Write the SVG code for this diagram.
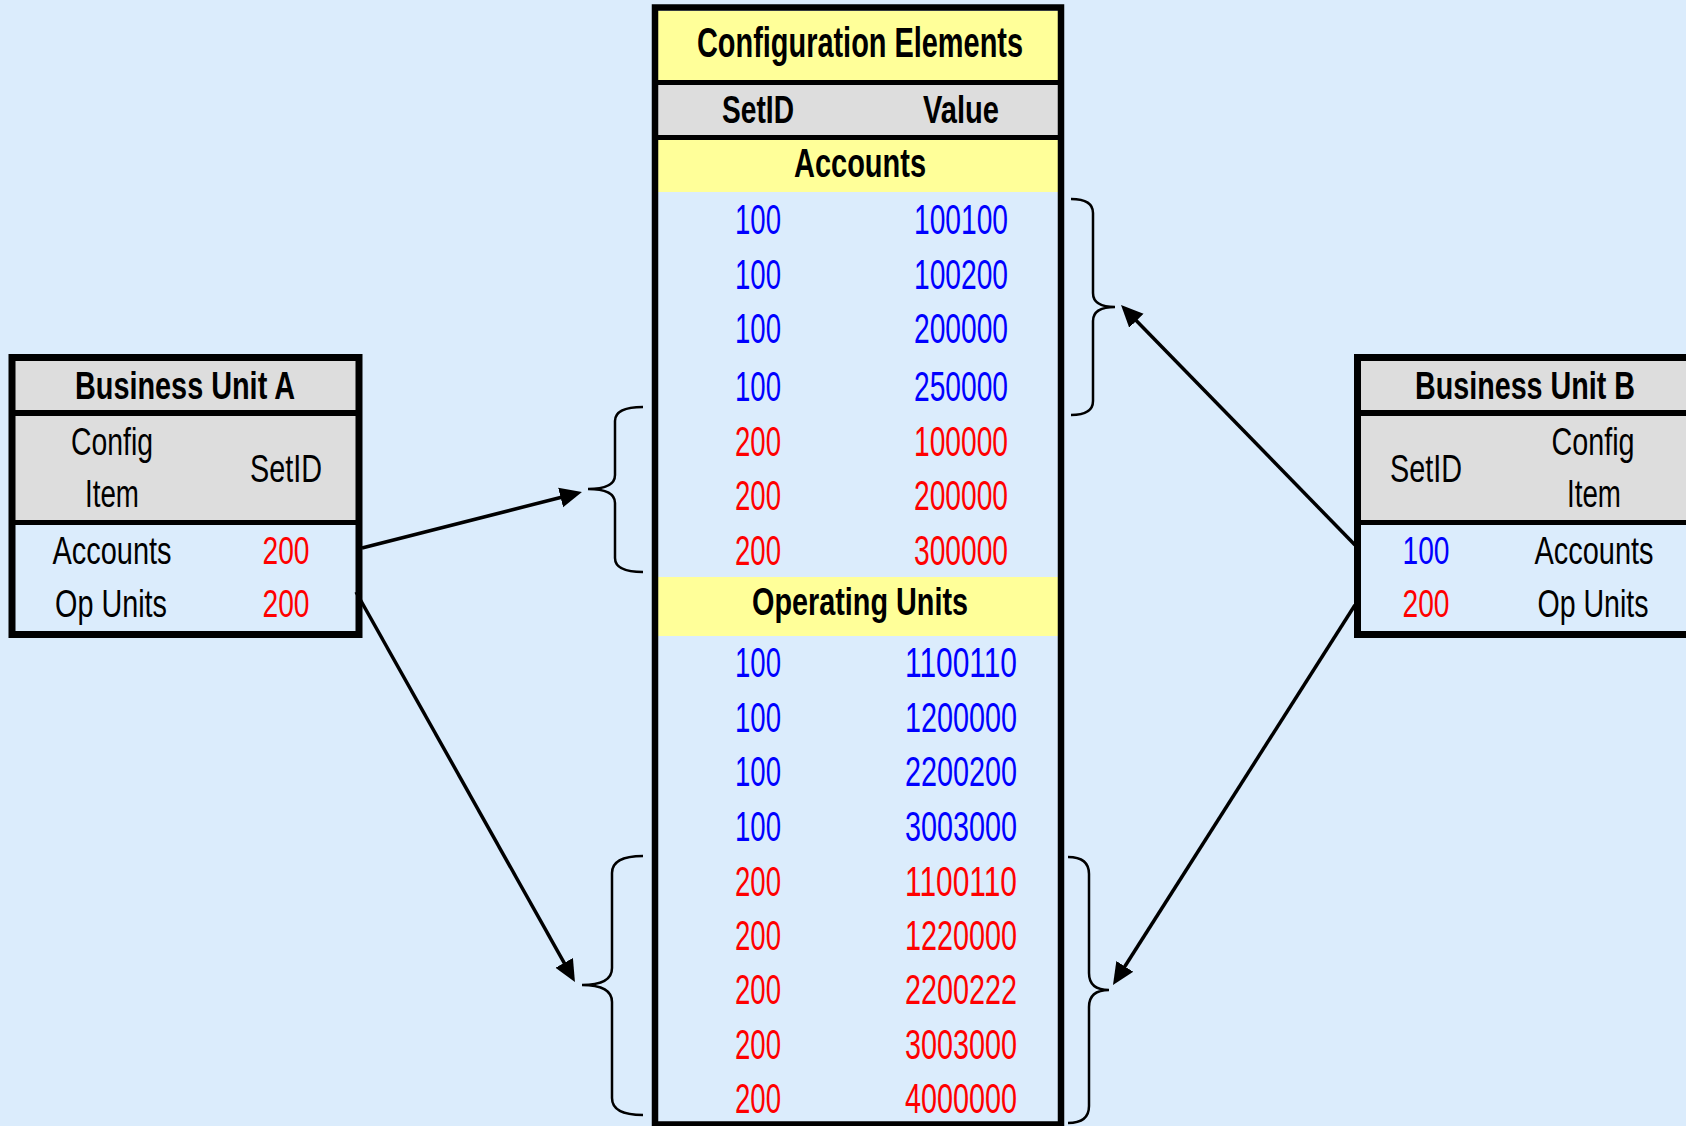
<svg xmlns="http://www.w3.org/2000/svg" width="1686" height="1126" viewBox="0 0 1686 1126">
<style>
  text { font-family: "Liberation Sans", Arial, sans-serif; text-anchor: middle; }
  .t { font-weight: bold; fill: #000; }
  .n { font-size: 42px; }
  .s { font-size: 38px; fill: #000; }
  .blue { fill: #0000FF; }
  .red { fill: #FF0000; }
  .bg { fill: #DBECFC; }
  .gray { fill: #DDDDDD; }
  .yel { fill: #FFFF99; }
  .sep { fill: #000; }
  .frame { fill: none; stroke: #000; }
  .arrow { fill: none; stroke: #000; stroke-width: 3.5; marker-end: url(#ah); }
  .brace { fill: none; stroke: #000; stroke-width: 2.5; }
</style>
<defs>
  <marker id="ah" markerUnits="userSpaceOnUse" markerWidth="24" markerHeight="24" viewBox="0 -12 24 24" refX="8" refY="0" orient="auto">
    <path d="M0,-10 L22,0 L0,10 Z" fill="#000"/>
  </marker>
</defs>
<rect x="0" y="0" width="1686" height="1126" class="bg"/>

<g id="config-elements">
  <rect x="658" y="11" width="400" height="1111" class="bg"/>
  <rect x="658" y="11" width="400" height="69" class="yel"/>
  <rect x="658" y="80" width="400" height="5" class="sep"/>
  <rect x="658" y="85" width="400" height="50" class="gray"/>
  <rect x="658" y="135" width="400" height="5" class="sep"/>
  <rect x="658" y="140" width="400" height="52" class="yel"/>
  <rect x="658" y="577" width="400" height="59" class="yel"/>
  <rect x="655" y="7.5" width="406" height="1117" class="frame" stroke-width="6.5"/>
  <text x="860" y="57" class="t" font-size="42" textLength="326" lengthAdjust="spacingAndGlyphs">Configuration Elements</text>
  <text x="758" y="123" class="t" font-size="39" textLength="72" lengthAdjust="spacingAndGlyphs">SetID</text>
  <text x="961" y="123" class="t" font-size="39" textLength="76" lengthAdjust="spacingAndGlyphs">Value</text>
  <text x="860" y="177" class="t" font-size="40" textLength="132" lengthAdjust="spacingAndGlyphs">Accounts</text>
  <text x="860" y="615" class="t" font-size="39" textLength="216" lengthAdjust="spacingAndGlyphs">Operating Units</text>

  <g class="n">
    <text x="758" y="234" class="blue" textLength="46" lengthAdjust="spacingAndGlyphs">100</text>
    <text x="961" y="234" class="blue" textLength="94" lengthAdjust="spacingAndGlyphs">100100</text>
    <text x="758" y="289" class="blue" textLength="46" lengthAdjust="spacingAndGlyphs">100</text>
    <text x="961" y="289" class="blue" textLength="94" lengthAdjust="spacingAndGlyphs">100200</text>
    <text x="758" y="343" class="blue" textLength="46" lengthAdjust="spacingAndGlyphs">100</text>
    <text x="961" y="343" class="blue" textLength="94" lengthAdjust="spacingAndGlyphs">200000</text>
    <text x="758" y="401" class="blue" textLength="46" lengthAdjust="spacingAndGlyphs">100</text>
    <text x="961" y="401" class="blue" textLength="94" lengthAdjust="spacingAndGlyphs">250000</text>
    <text x="758" y="456" class="red" textLength="46" lengthAdjust="spacingAndGlyphs">200</text>
    <text x="961" y="456" class="red" textLength="94" lengthAdjust="spacingAndGlyphs">100000</text>
    <text x="758" y="510" class="red" textLength="46" lengthAdjust="spacingAndGlyphs">200</text>
    <text x="961" y="510" class="red" textLength="94" lengthAdjust="spacingAndGlyphs">200000</text>
    <text x="758" y="565" class="red" textLength="46" lengthAdjust="spacingAndGlyphs">200</text>
    <text x="961" y="565" class="red" textLength="94" lengthAdjust="spacingAndGlyphs">300000</text>

    <text x="758" y="677" class="blue" textLength="46" lengthAdjust="spacingAndGlyphs">100</text>
    <text x="961" y="677" class="blue" textLength="112" lengthAdjust="spacingAndGlyphs">1100110</text>
    <text x="758" y="732" class="blue" textLength="46" lengthAdjust="spacingAndGlyphs">100</text>
    <text x="961" y="732" class="blue" textLength="112" lengthAdjust="spacingAndGlyphs">1200000</text>
    <text x="758" y="786" class="blue" textLength="46" lengthAdjust="spacingAndGlyphs">100</text>
    <text x="961" y="786" class="blue" textLength="112" lengthAdjust="spacingAndGlyphs">2200200</text>
    <text x="758" y="841" class="blue" textLength="46" lengthAdjust="spacingAndGlyphs">100</text>
    <text x="961" y="841" class="blue" textLength="112" lengthAdjust="spacingAndGlyphs">3003000</text>
    <text x="758" y="896" class="red" textLength="46" lengthAdjust="spacingAndGlyphs">200</text>
    <text x="961" y="896" class="red" textLength="112" lengthAdjust="spacingAndGlyphs">1100110</text>
    <text x="758" y="950" class="red" textLength="46" lengthAdjust="spacingAndGlyphs">200</text>
    <text x="961" y="950" class="red" textLength="112" lengthAdjust="spacingAndGlyphs">1220000</text>
    <text x="758" y="1004" class="red" textLength="46" lengthAdjust="spacingAndGlyphs">200</text>
    <text x="961" y="1004" class="red" textLength="112" lengthAdjust="spacingAndGlyphs">2200222</text>
    <text x="758" y="1059" class="red" textLength="46" lengthAdjust="spacingAndGlyphs">200</text>
    <text x="961" y="1059" class="red" textLength="112" lengthAdjust="spacingAndGlyphs">3003000</text>
    <text x="758" y="1113" class="red" textLength="46" lengthAdjust="spacingAndGlyphs">200</text>
    <text x="961" y="1113" class="red" textLength="112" lengthAdjust="spacingAndGlyphs">4000000</text>
  </g>
</g>

<g id="bu-a">
  <rect x="15" y="361" width="344" height="273" class="bg"/>
  <rect x="15" y="361" width="344" height="49" class="gray"/>
  <rect x="15" y="410" width="344" height="6" class="sep"/>
  <rect x="15" y="416" width="344" height="104" class="gray"/>
  <rect x="15" y="520" width="344" height="5" class="sep"/>
  <rect x="12" y="357.5" width="347" height="277" class="frame" stroke-width="7"/>
  <text x="185" y="399" class="t" font-size="38" textLength="220" lengthAdjust="spacingAndGlyphs">Business Unit A</text>
  <text x="112" y="455" class="s" textLength="82" lengthAdjust="spacingAndGlyphs">Config</text>
  <text x="112" y="507" class="s" textLength="54" lengthAdjust="spacingAndGlyphs">Item</text>
  <text x="286" y="482" class="s" textLength="72" lengthAdjust="spacingAndGlyphs">SetID</text>
  <text x="112" y="564" class="s" textLength="119" lengthAdjust="spacingAndGlyphs">Accounts</text>
  <text x="286" y="564" class="s red" textLength="47" lengthAdjust="spacingAndGlyphs">200</text>
  <text x="111" y="617" class="s" textLength="112" lengthAdjust="spacingAndGlyphs">Op Units</text>
  <text x="286" y="617" class="s red" textLength="47" lengthAdjust="spacingAndGlyphs">200</text>
</g>

<g id="bu-b">
  <rect x="1361" y="361" width="340" height="273" class="bg"/>
  <rect x="1361" y="361" width="340" height="49" class="gray"/>
  <rect x="1361" y="410" width="340" height="6" class="sep"/>
  <rect x="1361" y="416" width="340" height="104" class="gray"/>
  <rect x="1361" y="520" width="340" height="5" class="sep"/>
  <rect x="1357.5" y="357.5" width="347" height="277" class="frame" stroke-width="7"/>
  <text x="1525" y="399" class="t" font-size="38" textLength="220" lengthAdjust="spacingAndGlyphs">Business Unit B</text>
  <text x="1426" y="482" class="s" textLength="72" lengthAdjust="spacingAndGlyphs">SetID</text>
  <text x="1593" y="455" class="s" textLength="83" lengthAdjust="spacingAndGlyphs">Config</text>
  <text x="1594" y="507" class="s" textLength="54" lengthAdjust="spacingAndGlyphs">Item</text>
  <text x="1426" y="564" class="s blue" textLength="47" lengthAdjust="spacingAndGlyphs">100</text>
  <text x="1594" y="564" class="s" textLength="119" lengthAdjust="spacingAndGlyphs">Accounts</text>
  <text x="1426" y="617" class="s red" textLength="47" lengthAdjust="spacingAndGlyphs">200</text>
  <text x="1593" y="617" class="s" textLength="111" lengthAdjust="spacingAndGlyphs">Op Units</text>
</g>

<g id="connectors">
  <path class="brace" d="M643,407 Q615,407 615,421 L615,475 Q615,489 588,489 Q615,489 615,503 L615,558 Q615,572 643,572"/>
  <path class="brace" d="M643,856 Q612,856 612,873 L612,968 Q612,985 582,985 Q612,985 612,1002 L612,1098 Q612,1115 643,1115"/>
  <path class="brace" d="M1071,199 Q1093,199 1093,213 L1093,293 Q1093,307 1115,307 Q1093,307 1093,321 L1093,401 Q1093,415 1071,415"/>
  <path class="brace" d="M1068,857 Q1089,857 1089,874 L1089,973 Q1089,990 1109,990 Q1089,990 1089,1007 L1089,1106 Q1089,1123 1068,1123"/>
  <path class="arrow" d="M362,548 L568.4,495.5"/>
  <path class="arrow" d="M356,592 L568.1,969.8"/>
  <path class="arrow" d="M1355,545 L1130.8,315"/>
  <path class="arrow" d="M1355,605 L1120.5,973.2"/>
</g>
</svg>
